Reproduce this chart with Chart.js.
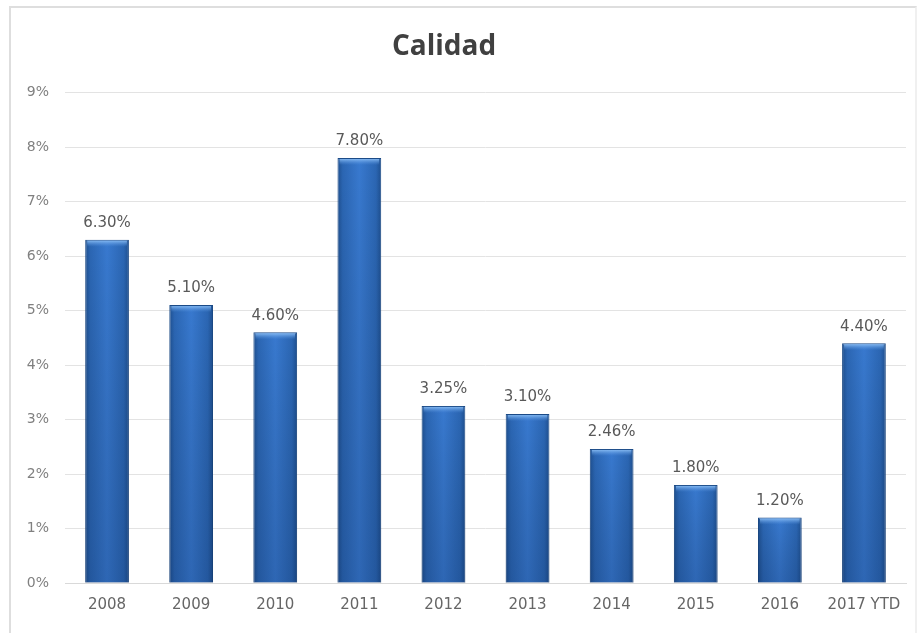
<!DOCTYPE html>
<html>
<head>
<meta charset="utf-8">
<script src="https://cdn.jsdelivr.net/npm/chart.js@4.4.1/dist/chart.umd.min.js"></script>
<style>
  html, body { margin: 0; padding: 0; background: #fff; }
  #wrap { position: relative; width: 918px; height: 633px; overflow: hidden; }
  #frame { position: absolute; left: 9px; top: 6px; width: 904px; height: 700px; border: 2px solid #dedede; border-right-color: #f0f0f0; }
  canvas { position: absolute; left: -18px; top: 0; }
</style>
</head>
<body>
<div id="wrap">
  <div id="frame"></div>
  <canvas id="myChart" width="936" height="633"></canvas>
</div>
<script>
const years = ['2008', '2009', '2010', '2011', '2012', '2013', '2014', '2015', '2016', '2017 YTD'];
const calidad = [6.3, 5.1, 4.6, 7.8, 3.25, 3.1, 2.46, 1.8, 1.2, 4.4];
const yTicks = [0, 1, 2, 3, 4, 5, 6, 7, 8, 9];

const barPct = 0.52;
const fontFamily = '"DejaVu Sans", sans-serif';

function barFill(ctx) {
    const chart = ctx.chart;
    const x = chart.scales.x;
    if (!x || !chart.chartArea) return '#2f6fc2';
    const center = x.getPixelForValue(ctx.dataIndex);
    const half = (x.width / years.length) * barPct / 2;
    const g = chart.ctx.createLinearGradient(center - half, 0, center + half, 0);
    g.addColorStop(0, '#1e4f8f');
    g.addColorStop(0.12, '#2b66b3');
    g.addColorStop(0.5, '#3879cf');
    g.addColorStop(0.88, '#2b66b3');
    g.addColorStop(1, '#1e4f8f');
    return g;
}

// darken toward the bottom, light cap on top, value labels
const barDecor = {
    id: 'barDecor',
    afterDatasetsDraw(chart) {
        const c = chart.ctx;
        const meta = chart.getDatasetMeta(0);
        const base = chart.scales.y.getPixelForValue(0);
        meta.data.forEach((bar, i) => {
            const w = bar.width;
            const left = bar.x - w / 2;
            const g = c.createLinearGradient(0, bar.y, 0, base);
            g.addColorStop(0, 'rgba(0,0,0,0)');
            g.addColorStop(1, 'rgba(0,20,60,0.18)');
            c.save();
            c.fillStyle = g;
            c.fillRect(left, bar.y, w, base - bar.y);
            const cap = c.createLinearGradient(0, bar.y, 0, bar.y + 7);
            cap.addColorStop(0, 'rgba(150,200,250,1)');
            cap.addColorStop(1, 'rgba(90,150,225,0)');
            c.fillStyle = cap;
            c.fillRect(left + 2, bar.y + 1, w - 4, 7);
            c.fillStyle = '#595959';
            c.font = '15px ' + fontFamily;
            c.textAlign = 'center';
            c.textBaseline = 'bottom';
            c.fillText(calidad[i].toFixed(2) + '%', bar.x, bar.y - 9);
            c.restore();
        });
    }
};

new Chart(document.getElementById('myChart').getContext('2d'), {
    type: 'bar',
    data: {
        labels: years,
        datasets: [{
            label: 'Calidad',
            data: calidad,
            backgroundColor: barFill,
            borderColor: '#1b4a86',
            borderWidth: 1,
            barPercentage: barPct,
            categoryPercentage: 1
        }]
    },
    options: {
        responsive: false,
        animation: false,
        layout: { padding: { left: 0, right: 12, top: 0, bottom: 0 } },
        plugins: {
            legend: { display: false },
            tooltip: { enabled: false },
            title: {
                display: true,
                text: 'Calidad',
                color: '#404040',
                font: { family: '"Open Sans", sans-serif', size: 28, weight: 'bold' },
                padding: { top: 30, bottom: 29 }
            }
        },
        scales: {
            x: {
                grid: { display: false, drawTicks: false },
                border: { color: '#d9d9d9' },
                ticks: { color: '#666666', font: { family: fontFamily, size: 15 }, padding: 13 },
                afterFit(axis) { axis.height = 50; }
            },
            y: {
                min: 0,
                max: 9,
                afterBuildTicks(axis) { axis.ticks = yTicks.map(v => ({ value: v })); },
                grid: { color: '#e3e3e3', drawTicks: false },
                border: { display: false },
                ticks: {
                    color: '#808080',
                    font: { family: fontFamily, size: 14 },
                    padding: 16,
                    callback: v => v + '%'
                },
                afterFit(axis) { axis.width = 83; }
            }
        }
    },
    plugins: [barDecor]
});
</script>
</body>
</html>
